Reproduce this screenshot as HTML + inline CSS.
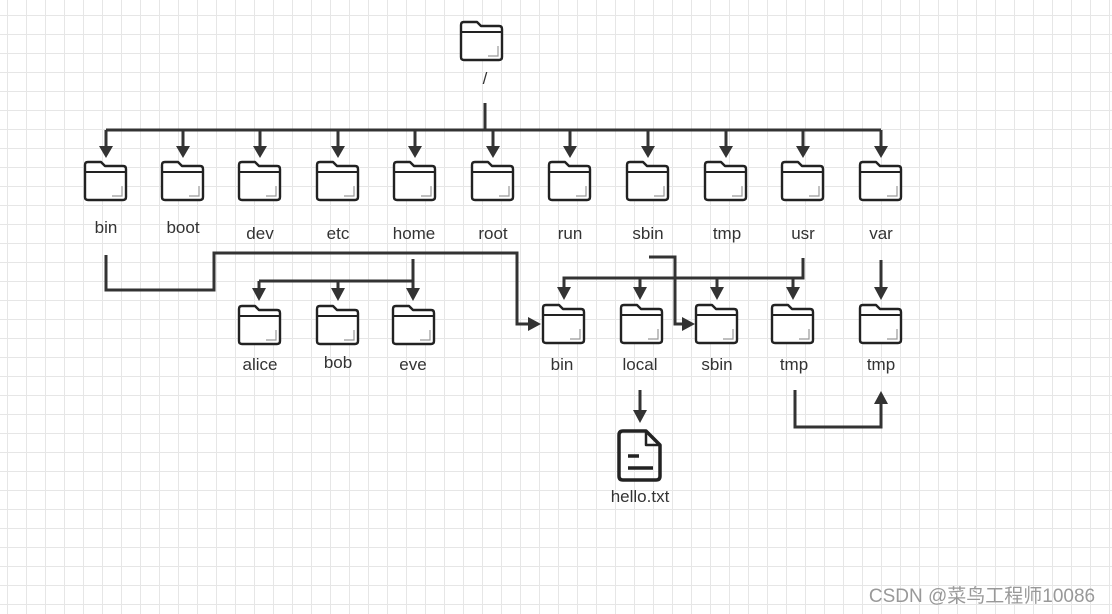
<!DOCTYPE html>
<html><head><meta charset="utf-8"><style>
html,body{margin:0;padding:0;background:#fff}
svg{display:block}
text{font-family:"Liberation Sans","Noto Sans CJK SC",sans-serif;font-size:17px;fill:#333;text-anchor:middle}
</style></head><body>
<svg width="1112" height="614" viewBox="0 0 1112 614" xmlns="http://www.w3.org/2000/svg">
<defs>
<pattern id="g" x="7" y="15" width="19" height="19" patternUnits="userSpaceOnUse">
<path d="M0,0.5 H19 M0.5,0 V19" stroke="#e6e6e6" stroke-width="1" fill="none"/>
</pattern>
<symbol id="f" overflow="visible">
<path d="M3,1 H16 L20,5 H38 Q41,5 41,8 V36 Q41,39 38,39 H3 Q0,39 0,36 V4 Q0,1 3,1 Z" fill="#fff" stroke="#222" stroke-width="2.4" stroke-linejoin="round"/>
<path d="M0,11 H41" stroke="#222" stroke-width="2"/>
<path d="M27,35 H37 V25" stroke="#999" stroke-width="1.2" fill="none"/>
</symbol>
</defs>
<rect width="1112" height="614" fill="url(#g)"/>
<g stroke="#333" stroke-width="3" fill="none">
<path d="M485,103 V130 M106,130 H881"/>
<path d="M106,130 V150 M183,130 V150 M260,130 V150 M338,130 V150 M415,130 V150 M493,130 V150 M570,130 V150 M648,130 V150 M726,130 V150 M803,130 V150 M881,130 V150"/>
<path d="M106,255 V290 H214 V253 H517 V324 H530"/>
<path d="M413,259 V292 M259,281 H413 M259,281 V292 M338,281 V292"/>
<path d="M803,258 V278 H564 V291 M640,278 V291 M717,278 V291 M793,278 V291"/>
<path d="M649,257 H675 V324 H684"/>
<path d="M881,260 V291"/>
<path d="M795,390 V427 H881 V403"/>
<path d="M640,390 V414"/>
</g>
<g fill="#333">
<path d="M99,146 H113 L106,158 Z"/>
<path d="M176,146 H190 L183,158 Z"/><path d="M253,146 H267 L260,158 Z"/><path d="M331,146 H345 L338,158 Z"/><path d="M408,146 H422 L415,158 Z"/><path d="M486,146 H500 L493,158 Z"/><path d="M563,146 H577 L570,158 Z"/><path d="M641,146 H655 L648,158 Z"/><path d="M719,146 H733 L726,158 Z"/><path d="M796,146 H810 L803,158 Z"/><path d="M874,146 H888 L881,158 Z"/>
<path d="M252,288 H266 L259,301 Z"/><path d="M331,288 H345 L338,301 Z"/><path d="M406,288 H420 L413,301 Z"/>
<path d="M557,287 H571 L564,300 Z"/><path d="M633,287 H647 L640,300 Z"/><path d="M710,287 H724 L717,300 Z"/><path d="M786,287 H800 L793,300 Z"/>
<path d="M874,287 H888 L881,300 Z"/>
<path d="M874,404 H888 L881,391 Z"/>
<path d="M633,410 H647 L640,423 Z"/>
<path d="M528,317 V331 L541,324 Z"/>
<path d="M682,317 V331 L695,324 Z"/>
</g>
<use href="#f" x="461" y="21"/>
<use href="#f" x="85" y="161"/><use href="#f" x="162" y="161"/><use href="#f" x="239" y="161"/><use href="#f" x="317" y="161"/><use href="#f" x="394" y="161"/><use href="#f" x="472" y="161"/><use href="#f" x="549" y="161"/><use href="#f" x="627" y="161"/><use href="#f" x="705" y="161"/><use href="#f" x="782" y="161"/><use href="#f" x="860" y="161"/>
<use href="#f" x="239" y="305"/><use href="#f" x="317" y="305"/><use href="#f" x="393" y="305"/>
<use href="#f" x="543" y="304"/><use href="#f" x="621" y="304"/><use href="#f" x="696" y="304"/><use href="#f" x="772" y="304"/><use href="#f" x="860" y="304"/>
<g stroke="#222" stroke-width="3.5" fill="none" stroke-linejoin="round">
<path d="M623,431 H646 L660,445 V476 Q660,480 656,480 H623 Q619,480 619,476 V435 Q619,431 623,431 Z"/>
<path d="M646,431 V445 H660" stroke-width="2.5"/>
<path d="M628,456 H639 M628,468 H653"/>
</g>
<text x="485" y="84">/</text>
<text x="106" y="233">bin</text><text x="183" y="233">boot</text>
<text x="260" y="239">dev</text><text x="338" y="239">etc</text><text x="414" y="239">home</text><text x="493" y="239">root</text><text x="570" y="239">run</text><text x="648" y="239">sbin</text><text x="727" y="239">tmp</text><text x="803" y="239">usr</text><text x="881" y="239">var</text>
<text x="260" y="370">alice</text><text x="338" y="368">bob</text><text x="413" y="370">eve</text>
<text x="562" y="370">bin</text><text x="640" y="370">local</text><text x="717" y="370">sbin</text><text x="794" y="370">tmp</text><text x="881" y="370">tmp</text>
<text x="640" y="502">hello.txt</text>
<text x="982" y="602" style="font-size:19px;fill:#999">CSDN @菜鸟工程师10086</text>
</svg>
</body></html>
